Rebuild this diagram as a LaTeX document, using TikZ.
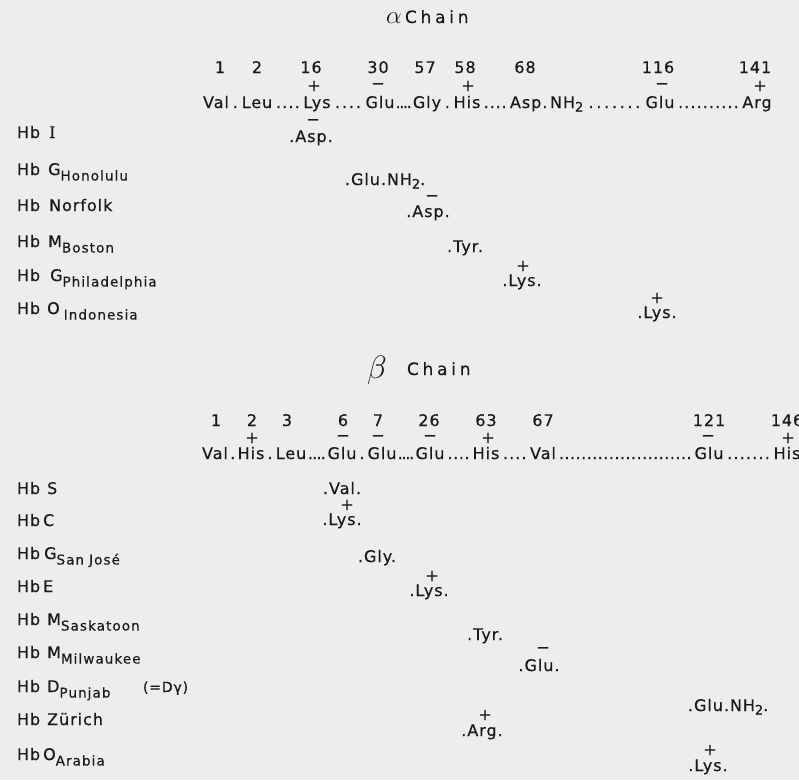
\documentclass[tikz,border=0pt]{standalone}
\usepackage{fontspec}
\setmainfont{DejaVu Sans}[LetterSpace=6,FakeBold=0.4]
\newfontfamily\serifI{DejaVu Serif}[FakeBold=0.4]
\usetikzlibrary{calc}
\definecolor{bg}{HTML}{EDEDED}
\definecolor{ink}{HTML}{1A1A1A}
\newcommand\fs{\fontsize{16}{19}\selectfont}
\newcommand\sbs[1]{\raisebox{-5.5pt}{\fontsize{13.5}{14}\selectfont\addfontfeature{LetterSpace=8}#1}}
\newcommand\nhtwo{NH\raisebox{-3.5pt}{\fontsize{13}{13}\selectfont 2}}
\tikzset{
  txt/.style={inner sep=0pt, outer sep=0pt, anchor=base, text=ink, font=\fs},
  txl/.style={txt, anchor=base west},
  sgn/.style={inner sep=0pt, outer sep=0pt, anchor=center, text=ink, font=\fs},
  ttl/.style={txl, font=\fontsize{17}{17}\selectfont\addfontfeature{LetterSpace=22}},
}
\newcommand\leader[3]{\foreach \i in {1,...,#3}{\node[txt] at ($(#1.base east)!{\i/(#3+1)}!(#2.base west)$) {\makebox[0pt]{.}};}}
\begin{document}
\begin{tikzpicture}[x=1pt,y=-1pt]
\useasboundingbox (0,0) rectangle (799,780);
\fill[bg] (0,0) rectangle (799,780);

% ---------------- alpha chain ----------------
\node[txl] (agr) at (386,23) {\fontsize{24}{24}\selectfont$\alpha$};
\node[ttl] (achain) at (405,23) {Chain};

\foreach \x/\n/\lab in {220/a1/1, 257/a2/2, 311/a16/16, 378/a30/30, 425/a57/57, 465/a58/58, 525/a68/68, 658/a116/116, 755/a141/141}
  \node[txt] (\n) at (\x,73) {\lab};

\node[sgn] (sa16) at (314,86) {+};
\node[sgn] (sa30) at (378,86) {−};
\node[sgn] (sa58) at (468,86) {+};
\node[sgn] (sa116) at (662,86) {−};
\node[sgn] (sa141) at (760,86) {+};

\node[txt] (ra1) at (216,108) {Val};
\node[txt] (ra2) at (257,108) {Leu};
\node[txt] (ra16) at (317,108) {Lys};
\node[txt] (ra30) at (380,108) {Glu};
\node[txt] (ra57) at (427,108) {Gly};
\node[txt] (ra58) at (467,108) {His};
\node[txl] (ra68) at (510,108) {Asp.\,\nhtwo};
\node[txt] (ra116) at (660,108) {Glu};
\node[txt] (ra141) at (757,108) {Arg};
\leader{ra1}{ra2}{1}
\leader{ra2}{ra16}{4}
\leader{ra16}{ra30}{4}
\leader{ra30}{ra57}{4}
\leader{ra57}{ra58}{1}
\leader{ra58}{ra68}{4}
\leader{ra68}{ra116}{7}
\leader{ra116}{ra141}{10}

% variants alpha
\node[txl] (hI) at (17,138) {Hb\hspace{9pt}{\serifI I}};
\node[txl] (hGH) at (17,175) {Hb\hspace{8pt}G\sbs{Honolulu}};
\node[txl] (hN) at (17,211) {Hb\hspace{9pt}Norfolk};
\node[txl] (hMB) at (17,247) {Hb\hspace{8pt}M\sbs{Boston}};
\node[txl] (hGP) at (17,281) {Hb\hspace{10pt}G\sbs{Philadelphia}};
\node[txl] (hOI) at (17,314) {Hb\hspace{7pt}O\hspace{4pt}\sbs{Indonesia}};

\node[sgn] (vI+) at (313,122) {−};
\node[txt] (vI) at (311,142) {.Asp.};
\node[txl] (vGH) at (345,185) {.Glu.\nhtwo.};
\node[sgn] (vN+) at (432,198) {−};
\node[txt] (vN) at (428,217) {.Asp.};
\node[txt] (vMB) at (465,252) {.Tyr.};
\node[sgn] (vGP+) at (523,266) {+};
\node[txt] (vGP) at (522,286) {.Lys.};
\node[sgn] (vOI+) at (657,298) {+};
\node[txt] (vOI) at (657,318) {.Lys.};

% ---------------- beta chain ----------------
\node[txl, scale=1.3] (bgr) at (367,378) {\fontsize{24}{24}\selectfont$\beta$};
\node[ttl] (bchain) at (407,375) {Chain};

\foreach \x/\n/\lab in {216/b1/1, 252/b2/2, 287/b3/3, 343/b6/6, 378/b7/7, 429/b26/26, 486/b63/63, 543/b67/67, 709/b121/121, 787/b146/146}
  \node[txt] (\n) at (\x,426) {\lab};

\node[sgn] (sb2) at (252,438) {+};
\node[sgn] (sb6) at (343,438) {−};
\node[sgn] (sb7) at (378,438) {−};
\node[sgn] (sb26) at (430,438) {−};
\node[sgn] (sb63) at (488,438) {+};
\node[sgn] (sb121) at (708,438) {−};
\node[sgn] (sb146) at (788,438) {+};

\node[txt] (rb1) at (215,459) {Val};
\node[txt] (rb2) at (251,459) {His};
\node[txt] (rb3) at (291,459) {Leu};
\node[txt] (rb6) at (342,459) {Glu};
\node[txt] (rb7) at (382,459) {Glu};
\node[txt] (rb26) at (430,459) {Glu};
\node[txt] (rb63) at (486,459) {His};
\node[txt] (rb67) at (543,459) {Val};
\node[txt] (rb121) at (709,459) {Glu};
\node[txt] (rb146) at (787,459) {His};
\leader{rb1}{rb2}{1}
\leader{rb2}{rb3}{1}
\leader{rb3}{rb6}{4}
\leader{rb6}{rb7}{1}
\leader{rb7}{rb26}{4}
\leader{rb26}{rb63}{4}
\leader{rb63}{rb67}{4}
\leader{rb67}{rb121}{24}
\leader{rb121}{rb146}{7}

% variants beta
\node[txl] (hS) at (17,494) {Hb\hspace{7pt}S};
\node[txl] (hC) at (17,526) {Hb\hspace{3pt}C};
\node[txl] (hGS) at (17,559) {Hb\hspace{4pt}G\sbs{San\hspace{5pt}José}};
\node[txl] (hE) at (17,592) {Hb\hspace{3pt}E};
\node[txl] (hMS) at (17,625) {Hb\hspace{7pt}M\sbs{Saskatoon}};
\node[txl] (hMM) at (17,658) {Hb\hspace{7pt}M\sbs{Milwaukee}};
\node[txl] (hDP) at (17,692) {Hb\hspace{7pt}D\sbs{Punjab}};
\node[txl, font=\fontsize{14}{14}\selectfont] (hDPy) at (143,692) {(=Dγ)};
\node[txl] (hZ) at (17,725) {Hb\hspace{7pt}Zürich};
\node[txl] (hOA) at (17,760) {Hb\hspace{3pt}O\sbs{Arabia}};

\node[txt] (vS) at (342,494) {.Val.};
\node[sgn] (vC+) at (347,505) {+};
\node[txt] (vC) at (342,525) {.Lys.};
\node[txt] (vGS) at (377,562) {.Gly.};
\node[sgn] (vE+) at (432,576) {+};
\node[txt] (vE) at (429,596) {.Lys.};
\node[txt] (vMS) at (485,640) {.Tyr.};
\node[sgn] (vMM+) at (543,650) {−};
\node[txt] (vMM) at (539,671) {.Glu.};
\node[txl] (vDP) at (688,711) {.Glu.\nhtwo.};
\node[sgn] (vZ+) at (485,715) {+};
\node[txt] (vZ) at (482,736) {.Arg.};
\node[sgn] (vOA+) at (710,750) {+};
\node[txt] (vOA) at (708,771) {.Lys.};
\end{tikzpicture}
\end{document}
